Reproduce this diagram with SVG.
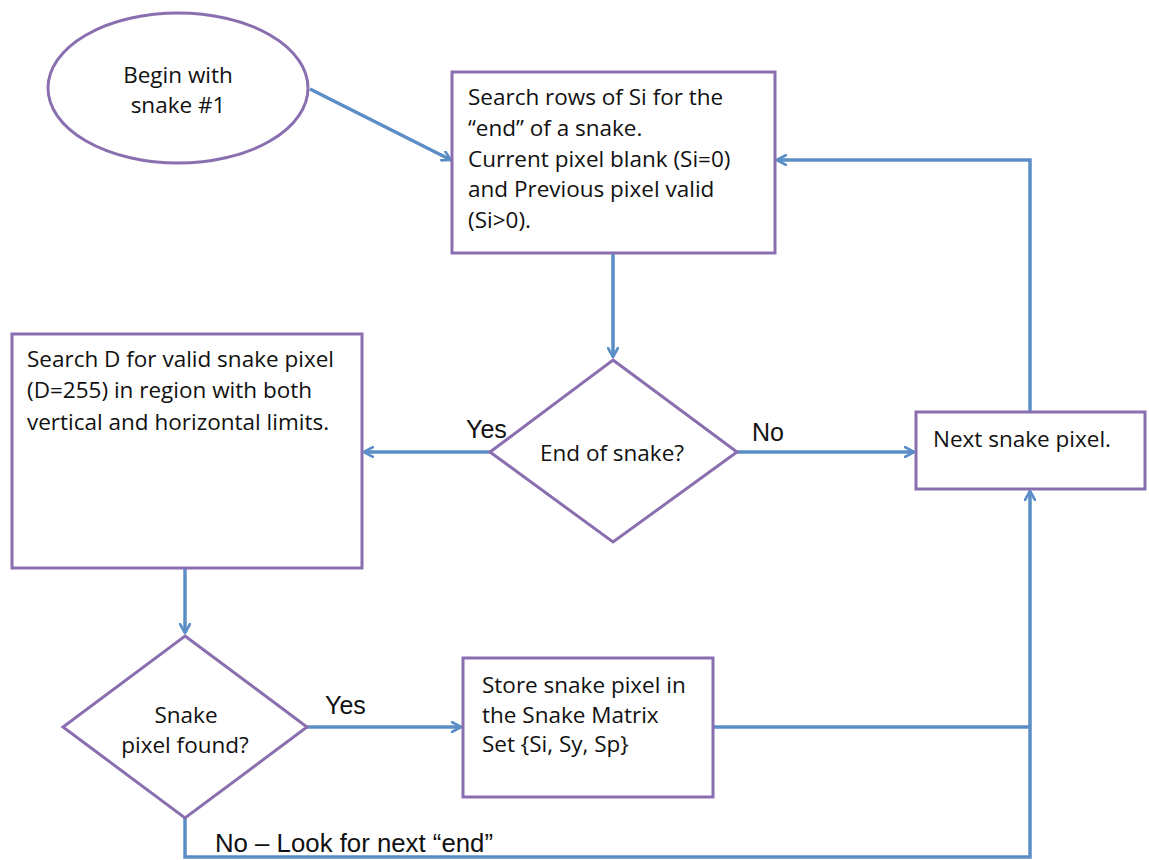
<svg xmlns="http://www.w3.org/2000/svg" width="1149" height="860" viewBox="0 0 1149 860">
<defs>
<marker id="arr" viewBox="0 0 12 12" refX="10" refY="6" markerWidth="12" markerHeight="12" markerUnits="userSpaceOnUse" orient="auto">
<path d="M1,1 L10,6 L1,11" fill="none" stroke="#5b8ec6" stroke-width="2.6" stroke-linecap="round" stroke-linejoin="round"/>
</marker>
<style>
.node{fill:#fff;stroke:#8a6fb0;stroke-width:3}
.t{font-family:"Open Sans",Lato,"Liberation Sans",sans-serif;font-size:22.5px;fill:#111}
.lbl{font-family:"Liberation Sans",Arial,sans-serif;font-size:25px;fill:#111}
.con{fill:none;stroke:#5b8ec6;stroke-width:3.5}
.con-a{fill:none;stroke:#5b8ec6;stroke-width:3.5;marker-end:url(#arr)}
</style>
</defs>
<rect width="1149" height="860" fill="#fff"/>
<g id="connectors">
<path class="con-a" d="M310,89 L451,160"/>
<path class="con-a" d="M613,254 L613,357"/>
<path class="con-a" d="M490,452 L364,452"/>
<path class="con-a" d="M737,452 L914,452"/>
<path class="con-a" d="M1030,412 L1030,160 L777,160"/>
<path class="con-a" d="M185,569 L185,633"/>
<path class="con-a" d="M307,727 L461,727"/>
<path class="con" d="M713,727 L1030,727"/>
<path class="con-a" d="M185,818 L185,857 L1030,857 L1030,491"/>
</g>
<g id="start">
<ellipse class="node" cx="178" cy="88" rx="130" ry="75"/>
<text class="t" x="178" y="83" text-anchor="middle">Begin with</text>
<text class="t" x="178" y="113" text-anchor="middle">snake #1</text>
</g>
<g id="search-rows">
<rect class="node" x="452" y="72" width="323" height="181"/>
<text class="t" x="468" y="105">Search rows of Si for the</text>
<text class="t" x="468" y="136">“end” of a snake.</text>
<text class="t" x="468" y="167">Current pixel blank (Si=0)</text>
<text class="t" x="468" y="197">and Previous pixel valid</text>
<text class="t" x="468" y="228">(Si&gt;0).</text>
</g>
<g id="end-of-snake">
<polygon class="node" points="613,360 737,452 613,542 490,452"/>
<text class="t" x="612" y="461" text-anchor="middle">End of snake?</text>
</g>
<g id="search-d">
<rect class="node" x="12" y="334" width="350" height="234"/>
<text class="t" x="27" y="367">Search D for valid snake pixel</text>
<text class="t" x="27" y="398">(D=255) in region with both</text>
<text class="t" x="27" y="430">vertical and horizontal limits.</text>
</g>
<g id="next-pixel">
<rect class="node" x="916" y="412" width="229" height="77"/>
<text class="t" x="933" y="447">Next snake pixel.</text>
</g>
<g id="pixel-found">
<polygon class="node" points="185,636 307,727 185,818 63,727"/>
<text class="t" x="186" y="723" text-anchor="middle">Snake</text>
<text class="t" x="185" y="753" text-anchor="middle">pixel found?</text>
</g>
<g id="store">
<rect class="node" x="463" y="658" width="250" height="139"/>
<text class="t" x="482" y="693">Store snake pixel in</text>
<text class="t" x="482" y="723">the Snake Matrix</text>
<text class="t" x="482" y="752">Set {Si, Sy, Sp}</text>
</g>
<g id="labels">
<text class="lbl" x="466" y="438">Yes</text>
<text class="lbl" x="752" y="441">No</text>
<text class="lbl" x="325" y="714">Yes</text>
<text class="lbl" x="215" y="852" textLength="278" lengthAdjust="spacingAndGlyphs">No – Look for next “end”</text>
</g>
</svg>
